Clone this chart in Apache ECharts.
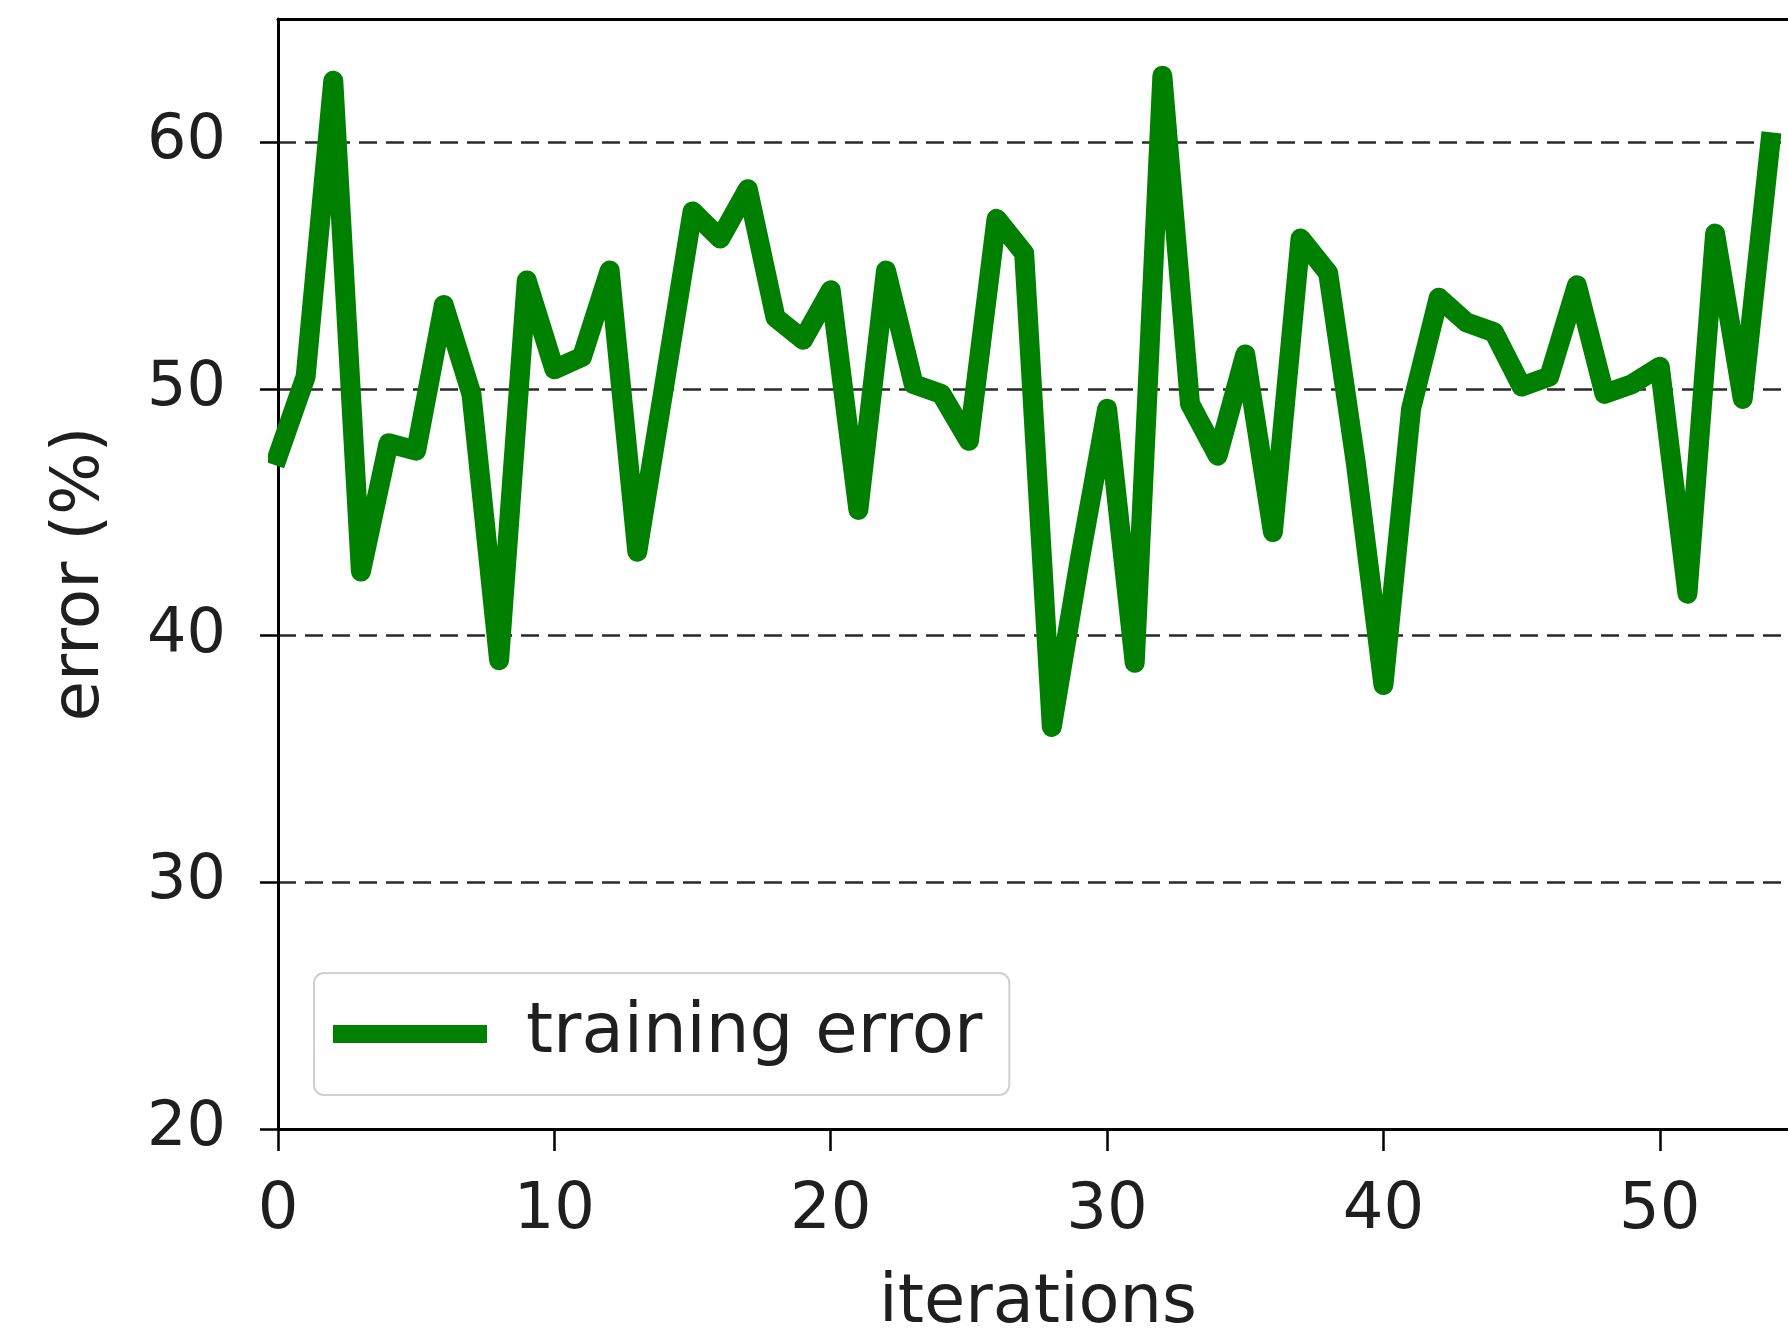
<!DOCTYPE html>
<html>
<head>
<meta charset="utf-8">
<script src="https://cdn.jsdelivr.net/npm/echarts@6/dist/echarts.min.js"></script>
<style>
  html, body { margin: 0; padding: 0; background: #ffffff; }
  #chart { width: 1788px; height: 1335px; }
</style>
</head>
<body>
<div id="chart"></div>
<script>
// ---- data ----
const iterations = [0,1,2,3,4,5,6,7,8,9,10,11,12,13,14,15,16,17,18,19,20,21,22,23,24,25,26,27,28,29,30,31,32,33,34,35,36,37,38,39,40,41,42,43,44,45,46,47,48,49,50,51,52,53,54];
const trainingError = [47.3,50.5,62.5,42.6,47.8,47.5,53.4,49.8,39.0,54.4,50.8,51.3,54.8,43.4,50.3,57.2,56.1,58.1,52.9,52.0,54.0,45.1,54.8,50.2,49.8,47.9,56.9,55.5,36.3,43.0,49.2,38.9,62.7,49.4,47.3,51.4,44.2,56.1,54.7,47.0,38.0,49.2,53.7,52.7,52.3,50.1,50.5,54.2,49.8,50.2,50.9,41.7,56.3,49.6,60.0];
const yTicks = [20, 30, 40, 50, 60];
const xTicks = [0, 10, 20, 30, 40, 50];
const seriesName = 'training error';
const xName = 'iterations';
const yName = 'error (%)';

const points = iterations.map((x, i) => [x, trainingError[i]]);
const FONT = 'DejaVu Sans';
const TXT = '#1f1f1f';

const chart = echarts.init(document.getElementById('chart'), null, { renderer: 'canvas' });
chart.setOption({
  animation: false,
  backgroundColor: '#ffffff',
  grid: { left: 278, top: 19, right: -10, bottom: 206, containLabel: false, outerBoundsMode: 'none' },
  legend: {
    show: true,
    left: 314, top: 973,
    orient: 'horizontal',
    icon: 'rect',
    itemWidth: 154, itemHeight: 18,
    padding: [26, 27, 26, 19],
    backgroundColor: '#ffffff',
    borderColor: '#d0d0d0', borderWidth: 2, borderRadius: 10,
    textStyle: { fontFamily: FONT, fontSize: 69, color: TXT, lineHeight: 70, padding: [0, 0, 0, 34] },
    data: [seriesName]
  },
  xAxis: [{
    type: 'value', min: 0, max: 55, interval: 10,
    name: xName, nameLocation: 'middle', nameGap: 142,
    nameTextStyle: { fontFamily: FONT, fontSize: 67, color: TXT },
    axisLine: { show: true, onZero: false, lineStyle: { color: '#000', width: 3 } },
    axisTick: { show: true, length: 22, lineStyle: { color: '#000', width: 2.5 }, customValues: xTicks },
    axisLabel: { fontFamily: FONT, fontSize: 64, color: TXT, margin: 50, customValues: xTicks },
    splitLine: { show: false }
  }, {
    type: 'value', min: 0, max: 55, position: 'top',
    axisLine: { show: true, onZero: false, lineStyle: { color: '#000', width: 3 } },
    axisTick: { show: false }, axisLabel: { show: false }, splitLine: { show: false }
  }],
  yAxis: {
    type: 'value', min: 20, max: 65, interval: 10,
    name: yName, nameLocation: 'middle', nameGap: 164, nameRotate: 90,
    nameTextStyle: { fontFamily: FONT, fontSize: 66, color: TXT },
    axisLine: { show: true, onZero: false, lineStyle: { color: '#000', width: 3 } },
    axisTick: { show: true, length: 18, lineStyle: { color: '#000', width: 2.5 }, customValues: yTicks },
    axisLabel: { fontFamily: FONT, fontSize: 62, color: TXT, margin: 52, customValues: yTicks },
    splitLine: { show: true, lineStyle: { color: '#2a2a2a', width: 2.5, type: [18, 9] } }
  },
  series: [{
    name: seriesName,
    type: 'line',
    xAxisIndex: 0,
    data: points,
    showSymbol: false,
    symbol: 'none',
    clip: true,
    color: '#008000',
    lineStyle: { color: '#008000', width: 20, join: 'round', cap: 'square' },
    itemStyle: { color: '#008000' }
  }]
});
</script>
</body>
</html>
